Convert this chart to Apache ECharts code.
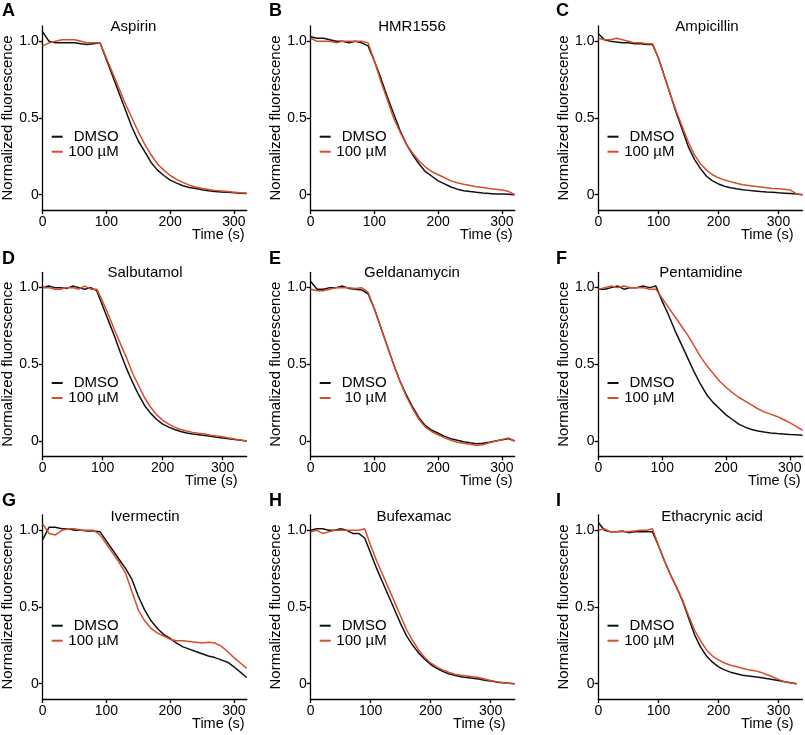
<!DOCTYPE html>
<html><head><meta charset="utf-8">
<script src="https://cdn.jsdelivr.net/npm/echarts@6/dist/echarts.min.js"></script>
<style>html,body{margin:0;padding:0;background:#fff}#c{width:805px;height:735px}</style>
</head><body><div id="c"></div>
<script>
// ---------- data ----------
const panelLetters = ['A','B','C','D','E','F','G','H','I'];
const drugNames = ['Aspirin','HMR1556','Ampicillin','Salbutamol','Geldanamycin','Pentamidine','Ivermectin','Bufexamac','Ethacrynic acid'];
const controlLabel = 'DMSO';
const doseLabels = ['100 µM','100 µM','100 µM','100 µM','10 µM','100 µM','100 µM','100 µM','100 µM'];
const xMaxes = [320,320,340,340,320,320,320,340,340];
const xTickVals = [0,100,200,300];
const yTickVals = [0,0.5,1.0];
const yTickLabels = ['0','0.5','1.0'];
const xAxisTitle = 'Time (s)';
const yAxisTitle = 'Normalized fluorescence';

const t320 = [0,10,20,30,40,50,60,70,80,90,100,110,120,130,140,150,160,170,180,190,200,210,220,230,240,250,260,270,280,290,300,310,320];
const t330 = [0,10,20,30,40,50,60,70,80,90,100,110,120,130,140,150,160,170,180,190,200,210,220,230,240,250,260,270,280,290,300,310,320,330];
const t340 = [0,10,20,30,40,50,60,70,80,90,100,110,120,130,140,150,160,170,180,190,200,210,220,230,240,250,260,270,280,290,300,310,320,330,340];

const aspirinDMSO = [1.06,1.0,0.99,0.99,0.99,0.99,0.985,0.98,0.985,0.99, 0.88,0.77,0.66,0.55,0.44,0.35,0.28,0.21,0.16,0.125, 0.095,0.075,0.058,0.047,0.04,0.032,0.026,0.021,0.018,0.015, 0.012,0.01,0.008];
const aspirinDrug = [0.97,0.99,1.0,1.01,1.01,1.01,1.0,0.99,0.99,0.99, 0.89,0.79,0.69,0.59,0.5,0.41,0.33,0.26,0.2,0.16, 0.125,0.1,0.08,0.062,0.05,0.04,0.034,0.028,0.024,0.02, 0.016,0.012,0.01];

const hmrDMSO = [1.03,1.02,1.02,1.01,1.0,1.0,0.99,1.0,0.99,0.97, 0.87,0.76,0.64,0.53,0.42,0.33,0.26,0.2,0.15,0.12, 0.09,0.07,0.05,0.036,0.026,0.02,0.015,0.011,0.008,0.005, 0.004,0.002,0.0];
const hmrDrug = [1.02,1.0,1.0,1.0,0.99,1.0,1.0,1.0,1.0,0.99, 0.87,0.74,0.62,0.5,0.41,0.33,0.27,0.22,0.18,0.15, 0.13,0.11,0.09,0.078,0.068,0.06,0.052,0.046,0.04,0.035, 0.03,0.022,0.0];

const ampDMSO = [1.05,1.01,1.0,0.995,0.99,0.99,0.985,0.985,0.98,0.98, 0.89,0.77,0.65,0.53,0.42,0.31,0.23,0.17,0.12,0.09, 0.07,0.055,0.045,0.038,0.032,0.028,0.024,0.02,0.017,0.015, 0.012,0.01,0.008,0.005,0.0];
const ampDrug = [1.02,1.01,1.01,1.02,1.01,1.0,0.99,0.99,0.985,0.985, 0.89,0.77,0.65,0.54,0.44,0.34,0.26,0.2,0.16,0.13, 0.11,0.095,0.085,0.075,0.065,0.06,0.055,0.05,0.045,0.04, 0.038,0.035,0.03,0.005,0.0];

const salDMSO = [1.0,1.01,1.0,1.0,0.995,1.01,1.0,0.99,1.0,0.98, 0.88,0.78,0.68,0.57,0.47,0.38,0.3,0.23,0.18,0.14, 0.11,0.09,0.075,0.062,0.052,0.045,0.04,0.035,0.03,0.025, 0.02,0.015,0.01,0.005,0.0];
const salDrug = [1.0,1.0,0.99,0.99,1.0,1.0,0.99,1.01,0.99,0.99, 0.91,0.82,0.72,0.63,0.54,0.44,0.36,0.28,0.22,0.17, 0.135,0.11,0.09,0.075,0.065,0.056,0.05,0.045,0.038,0.032, 0.027,0.02,0.013,0.007,0.0];

const gelDMSO = [1.04,0.99,0.99,1.0,1.0,1.01,0.995,0.99,0.985,0.96, 0.86,0.74,0.62,0.5,0.39,0.3,0.22,0.15,0.1,0.07, 0.05,0.03,0.015,0.005,-0.005,-0.012,-0.018,-0.015,-0.008,0.0, 0.008,0.015,0.0];
const gelDrug = [0.99,0.98,0.98,0.99,1.0,1.0,1.0,0.995,1.0,0.97, 0.86,0.74,0.62,0.5,0.39,0.29,0.21,0.14,0.09,0.06, 0.04,0.02,0.005,-0.008,-0.015,-0.022,-0.03,-0.025,-0.012,-0.002, 0.008,0.02,0.0];

const penDMSO = [0.99,0.99,1.0,1.01,0.99,1.0,1.0,1.01,1.0,1.01, 0.91,0.82,0.72,0.63,0.54,0.45,0.37,0.3,0.25,0.21, 0.17,0.14,0.11,0.09,0.075,0.065,0.058,0.052,0.048,0.045, 0.042,0.04,0.038];
const penDrug = [0.99,1.0,1.01,1.0,1.01,1.0,1.0,1.0,0.99,0.99, 0.93,0.87,0.81,0.75,0.69,0.62,0.55,0.49,0.44,0.39, 0.35,0.315,0.285,0.26,0.235,0.21,0.19,0.175,0.16,0.14, 0.12,0.095,0.07];

const ivDMSO = [0.94,1.02,1.02,1.01,1.01,1.0,1.0,0.995,0.995,0.99, 0.93,0.87,0.81,0.75,0.68,0.57,0.48,0.41,0.36,0.32, 0.295,0.265,0.24,0.225,0.21,0.195,0.18,0.17,0.155,0.14, 0.11,0.075,0.04];
const ivDrug = [1.04,0.98,0.97,1.0,1.01,1.01,1.0,1.0,1.0,0.97, 0.91,0.85,0.79,0.72,0.6,0.48,0.41,0.36,0.33,0.31, 0.29,0.28,0.28,0.275,0.27,0.265,0.27,0.265,0.245,0.21, 0.17,0.135,0.1];

const bufDMSO = [1.0,1.01,1.01,1.0,1.0,1.01,1.0,0.98,0.98,0.95, 0.85,0.75,0.66,0.57,0.48,0.39,0.31,0.25,0.2,0.16, 0.125,0.1,0.08,0.065,0.055,0.045,0.04,0.035,0.03,0.022, 0.017,0.01,0.006,0.003,0.0];
const bufDrug = [0.99,1.0,0.98,0.99,1.0,1.0,1.0,1.0,1.0,1.01, 0.9,0.8,0.71,0.62,0.53,0.44,0.35,0.28,0.22,0.17, 0.135,0.11,0.09,0.075,0.062,0.055,0.05,0.045,0.04,0.03, 0.02,0.012,0.007,0.003,0.0];

const ethDMSO = [1.05,1.0,0.99,0.99,0.995,0.985,0.99,0.99,0.99,0.99, 0.9,0.8,0.71,0.63,0.54,0.43,0.32,0.24,0.18,0.14, 0.11,0.09,0.075,0.065,0.055,0.05,0.045,0.04,0.033,0.027, 0.02,0.013,0.006,0.0];
const ethDrug = [1.0,1.01,0.99,0.99,0.99,0.99,0.995,1.0,1.0,1.01, 0.9,0.8,0.71,0.63,0.545,0.445,0.35,0.28,0.22,0.18, 0.155,0.135,0.12,0.11,0.1,0.09,0.085,0.075,0.06,0.045, 0.028,0.012,0.005,0.0];

const timeSets = [t320,t320,t340,t340,t320,t320,t320,t340,t330];
const dmsoSets = [aspirinDMSO,hmrDMSO,ampDMSO,salDMSO,gelDMSO,penDMSO,ivDMSO,bufDMSO,ethDMSO];
const drugSets = [aspirinDrug,hmrDrug,ampDrug,salDrug,gelDrug,penDrug,ivDrug,bufDrug,ethDrug];

// ---------- layout & style ----------
const FONT = 'Liberation Sans, Arial, Helvetica, sans-serif';
const BLACK = '#111111';
const RED = '#d84b2d';
const colLeft = [42.7, 310.7, 598.5];
const rowTop = [26, 272.3, 515];
const gridW = 204, gridH = 184;
const titleCX = [133.5, 412, 707, 145, 412, 701, 145, 414, 712];
const titleCY = [27, 273, 517];
const letterLeft = [2, 269, 556];
const letterCY = [11.5, 259, 501];

const grids = [], xAxes = [], yAxes = [], series = [], titles = [], legends = [];
const zip = (xs, ys) => xs.map((x, k) => [x, ys[k]]);

for (let i = 0; i < 9; i++) {
  const r = Math.floor(i / 3), c = i % 3;
  grids.push({left: colLeft[c], top: rowTop[r], width: gridW, height: gridH, outerBoundsMode: 'none', containLabel: false});
  xAxes.push({
    gridIndex: i, type: 'value', min: 0, max: xMaxes[i],
    axisLine: {show: true, onZero: false, lineStyle: {color: '#000', width: 1.3}},
    axisTick: {show: true, length: 4, customValues: xTickVals, lineStyle: {color: '#000', width: 1.3}},
    axisLabel: {customValues: xTickVals, fontSize: 14, fontFamily: FONT, color: '#000', margin: 5},
    splitLine: {show: false},
    name: xAxisTitle, nameLocation: 'end', nameGap: xMaxes[i] === 320 ? -2 : -9,
    nameMoveOverlap: false,
    nameTextStyle: {fontSize: 14.5, fontFamily: FONT, color: '#000', align: 'right', verticalAlign: 'top', padding: [17, 0, 0, 0]}
  });
  yAxes.push({
    gridIndex: i, type: 'value', min: -0.1, max: 1.1,
    axisLine: {show: true, onZero: false, lineStyle: {color: '#000', width: 1.3}},
    axisTick: {show: true, length: 4, customValues: yTickVals, lineStyle: {color: '#000', width: 1.3}},
    axisLabel: {customValues: yTickVals, fontSize: 14, fontFamily: FONT, color: '#000', margin: 4,
      formatter: v => { let b = 0; yTickVals.forEach((t, k) => { if (Math.abs(t - v) < Math.abs(yTickVals[b] - v)) b = k; }); return yTickLabels[b]; }},
    splitLine: {show: false},
    name: yAxisTitle, nameLocation: 'middle', nameGap: 27, nameMoveOverlap: false,
    nameTextStyle: {fontSize: 15, fontFamily: FONT, color: '#000'}
  });
  series.push({
    type: 'line', name: controlLabel, xAxisIndex: i, yAxisIndex: i,
    data: zip(timeSets[i], dmsoSets[i]), showSymbol: false, symbol: 'none',
    color: BLACK, lineStyle: {color: BLACK, width: 1.5}, itemStyle: {color: BLACK}, silent: true
  });
  series.push({
    type: 'line', name: doseLabels[i], xAxisIndex: i, yAxisIndex: i,
    data: zip(timeSets[i], drugSets[i]), showSymbol: false, symbol: 'none',
    color: RED, lineStyle: {color: RED, width: 1.5}, itemStyle: {color: RED}, silent: true
  });
  titles.push({
    text: drugNames[i], left: titleCX[i], top: titleCY[r] - 7.5, textAlign: 'center', padding: 0,
    textStyle: {fontSize: 15, fontWeight: 'normal', fontFamily: FONT, color: '#000', lineHeight: 15}
  });
  titles.push({
    text: panelLetters[i], left: letterLeft[c], top: letterCY[r] - 9, padding: 0,
    textStyle: {fontSize: 18, fontWeight: 'bold', fontFamily: FONT, color: '#000', lineHeight: 18}
  });
  legends.push({
    orient: 'vertical', left: colLeft[c] + 9, top: rowTop[r] + 103.2, padding: 0,
    data: [controlLabel, doseLabels[i]], icon: 'rect', itemWidth: 11, itemHeight: 2, itemGap: 0,
    selectedMode: false,
    formatter: n => '{r|' + n + '}',
    textStyle: {fontSize: 15, fontFamily: FONT, color: '#000', lineHeight: 15,
      rich: {r: {width: 51, align: 'right', fontSize: 15, fontFamily: FONT, color: '#000', lineHeight: 15}}}
  });
}

const chart = echarts.init(document.getElementById('c'), null, {renderer: 'canvas'});
chart.setOption({
  animation: false,
  backgroundColor: '#fff',
  title: titles, legend: legends, grid: grids, xAxis: xAxes, yAxis: yAxes, series: series
});
</script></body></html>
